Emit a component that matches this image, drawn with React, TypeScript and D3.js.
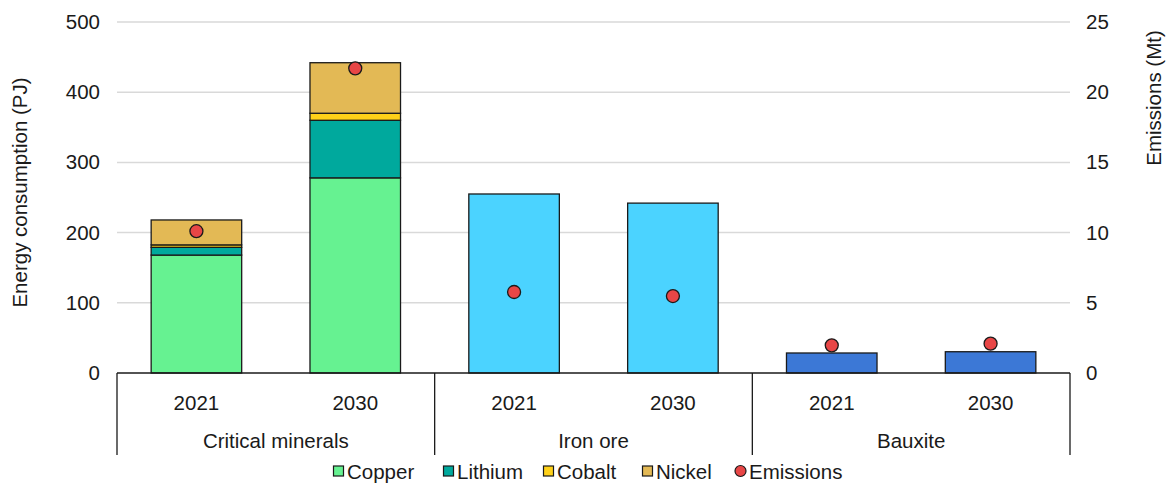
import React from "react";
import * as d3 from "d3";

const groups = ["Critical minerals", "Iron ore", "Bauxite"];
const years = ["2021", "2030"];
const seriesNames = ["Copper", "Lithium", "Cobalt", "Nickel"];
const copper = [168, 278];
const lithium = [11, 82];
const cobalt = [3.5, 10];
const nickel = [35.5, 72];
const ironOre = [255, 242];
const bauxite = [28.5, 30.3];
const emissions = [10.1, 21.7, 5.77, 5.48, 1.97, 2.09];
const leftTicks = [0, 100, 200, 300, 400, 500];
const rightTicks = [0, 5, 10, 15, 20, 25];

const colors: Record<string, string> = {
  Copper: "#66F291",
  Lithium: "#00A99D",
  Cobalt: "#FFD119",
  Nickel: "#E3B955",
  Iron: "#4BD3FF",
  Bauxite: "#3C78D6",
  Emissions: "#E84646",
};

export default function App() {
  const W = 1171, H = 485;
  const x0 = 117, x1 = 1070, yTop = 22, yBot = 373;
  const y = d3.scaleLinear().domain([0, 500]).range([yBot, yTop]);
  const y2 = d3.scaleLinear().domain([0, 25]).range([yBot, yTop]);
  const cats = groups.flatMap((g) => years.map((yr) => `${g}|${yr}`));
  const xb = d3.scaleBand().domain(cats).range([x0, x1]).paddingInner(0.43).paddingOuter(0.215);
  const xg = d3.scaleBand().domain(groups).range([x0, x1]);
  const font = "Liberation Sans, Arial, sans-serif";
  const fs = 20.5;

  const rects: { x: number; y0: number; y1: number; fill: string; key: string }[] = [];
  years.forEach((yr, i) => {
    let acc = 0;
    const vals = [copper[i], lithium[i], cobalt[i], nickel[i]];
    vals.forEach((v, j) => {
      rects.push({ x: xb(`${groups[0]}|${yr}`)!, y0: acc, y1: acc + v, fill: colors[seriesNames[j]], key: `c${i}${j}` });
      acc += v;
    });
    rects.push({ x: xb(`${groups[1]}|${yr}`)!, y0: 0, y1: ironOre[i], fill: colors.Iron, key: `i${i}` });
    rects.push({ x: xb(`${groups[2]}|${yr}`)!, y0: 0, y1: bauxite[i], fill: colors.Bauxite, key: `b${i}` });
  });

  const legendItems = [...seriesNames, "Emissions"];
  const legendX = [333, 443, 543, 642, 735];

  return (
    <svg width={W} height={H} style={{ position: "absolute", left: 0, top: 0 }} fontFamily={font}>
      {leftTicks.slice(1).map((t) => (
        <line key={t} x1={x0} x2={x1} y1={y(t)} y2={y(t)} stroke="#D9D9D9" strokeWidth={1.5} />
      ))}
      {rects.map((r) => (
        <rect key={r.key} x={r.x} width={xb.bandwidth()} y={y(r.y1)} height={y(r.y0) - y(r.y1)} fill={r.fill} stroke="#1a1a1a" strokeWidth={1.3} />
      ))}
      {cats.map((c, i) => (
        <circle key={c} cx={xb(c)! + xb.bandwidth() / 2} cy={y2(emissions[i])} r={6.5} fill={colors.Emissions} stroke="#1a1a1a" strokeWidth={1.3} />
      ))}
      <line x1={x0} x2={x1} y1={yBot} y2={yBot} stroke="#1a1a1a" strokeWidth={1.3} />
      {[...groups.map((g) => xg(g)!), x1].map((xx, i) => (
        <line key={i} x1={xx} x2={xx} y1={yBot} y2={455} stroke="#1a1a1a" strokeWidth={1.3} />
      ))}
      {cats.map((c) => (
        <text key={c} x={xb(c)! + xb.bandwidth() / 2} y={409.5} textAnchor="middle" fontSize={fs} fill="#1a1a1a">{c.split("|")[1]}</text>
      ))}
      {groups.map((g) => (
        <text key={g} x={xg(g)! + xg.bandwidth() / 2} y={447.5} textAnchor="middle" fontSize={fs} fill="#1a1a1a">{g}</text>
      ))}
      {leftTicks.map((t) => (
        <text key={t} x={100} y={y(t) + 7} textAnchor="end" fontSize={fs} fill="#1a1a1a">{t}</text>
      ))}
      {rightTicks.map((t) => (
        <text key={t} x={1086} y={y2(t) + 7} textAnchor="start" fontSize={fs} fill="#1a1a1a">{t}</text>
      ))}
      <text transform={`translate(27,${(yTop + yBot) / 2 - 5}) rotate(-90)`} textAnchor="middle" fontSize={fs} fill="#1a1a1a">Energy consumption (PJ)</text>
      <text transform={`translate(1161,98) rotate(-90)`} textAnchor="middle" fontSize={fs} fill="#1a1a1a">Emissions (Mt)</text>
      {legendItems.map((name, i) => (
        <g key={name} transform={`translate(${legendX[i]},471)`}>
          {name === "Emissions" ? (
            <circle cx={5.5} cy={0} r={5.5} fill={colors.Emissions} stroke="#1a1a1a" strokeWidth={1.2} />
          ) : (
            <rect x={0.5} y={-5} width={10} height={10} fill={colors[name]} stroke="#1a1a1a" strokeWidth={1.2} />
          )}
          <text x={14} y={7.5} fontSize={fs} fill="#1a1a1a">{name}</text>
        </g>
      ))}
    </svg>
  );
}
